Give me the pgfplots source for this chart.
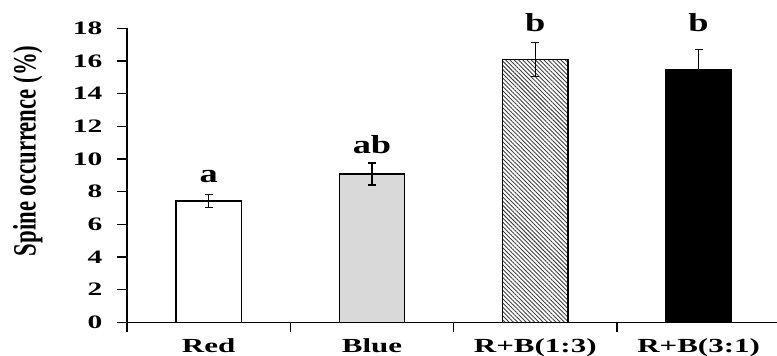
\documentclass[border=0pt]{standalone}
\usepackage{pgfplots}
\pgfplotsset{compat=1.18}
\usetikzlibrary{patterns.meta}
\usepackage{fontspec}
\setmainfont{Liberation Serif}
\newfontfamily\tickf{Liberation Serif}[FakeStretch=1.55]
\newfontfamily\letf{Liberation Serif}[FakeStretch=1.4]
\newfontfamily\labf{Liberation Serif}[FakeStretch=0.7]
\begin{document}
\begin{tikzpicture}
\begin{axis}[
  name=ax,
  scale only axis, width=650pt, height=294pt,
  xmin=-0.5, xmax=3.48, ymin=0, ymax=18,
  clip=false,
  axis x line*=bottom, axis y line*=left,
  axis line style={-, line width=1.3pt, black},
  every outer x axis line/.append style={-},
  every outer y axis line/.append style={-},
  ytick={0,2,...,18},
  xtick={-0.5,0.5,1.5,2.5},
  xticklabels={},
  extra x ticks={0,1,2,3},
  extra x tick labels={Red,Blue,R+B(1:3),R+B(3:1)},
  extra x tick style={tick style={draw=none}},
  tick align=outside,
  major tick length=9.5pt,
  every tick/.style={black, line width=1.3pt},
  /pgf/number format/assume math mode=true,
  yticklabel style={font=\tickf\bfseries\fontsize{19}{20}\selectfont, anchor=east, inner sep=0pt, xshift=-15pt},
  xticklabel style={font=\tickf\bfseries\fontsize{20}{22}\selectfont, anchor=north, inner sep=0pt, yshift=-6.5pt},
  ylabel={Spine occurrence (\%)},
  ylabel style={font=\labf\bfseries\fontsize{32.5}{35}\selectfont, at={(axis description cs:-0.1754,0.583)}, anchor=north, inner sep=0pt},
  error bars/error bar style={line width=1.3pt, black},
  error bars/error mark options={rotate=90, mark size=4pt, line width=1.3pt, black},
]
\addplot[ybar, bar width=0.4, bar shift=0pt, fill=white, draw=black, line width=1.3pt,
  error bars/.cd, y dir=both, y explicit] coordinates {(0,7.43) +- (0,0.41)};
\addplot[ybar, bar width=0.4, bar shift=0pt, fill=black!15, draw=black, line width=1.3pt,
  error bars/.cd, y dir=both, y explicit] coordinates {(1,9.08) +- (0,0.67)};
\addplot[ybar, bar width=0.4, bar shift=0pt, draw=black, line width=1.3pt,
  pattern={Lines[angle=-45, distance=3pt, line width=0.9pt]}, pattern color=black!75,
  error bars/.cd, y dir=both, y explicit] coordinates {(2,16.1) +- (0,1.05)};
\addplot[ybar, bar width=0.4, bar shift=0pt, fill=black, draw=black, line width=1.3pt,
  error bars/.cd, y dir=both, y explicit] coordinates {(3,15.49) +- (0,1.23)};
\node[font=\letf\bfseries\fontsize{26}{28}\selectfont, anchor=base, inner sep=0pt] at (axis cs:0,8.53) {a};
\node[font=\letf\bfseries\fontsize{26}{28}\selectfont, anchor=base, inner sep=0pt] at (axis cs:1,10.35) {ab};
\node[font=\letf\bfseries\fontsize{26}{28}\selectfont, anchor=base, inner sep=0pt] at (axis cs:2,17.8) {b};
\node[font=\letf\bfseries\fontsize{26}{28}\selectfont, anchor=base, inner sep=0pt] at (axis cs:3,17.8) {b};
\end{axis}
\pgfresetboundingbox
\path ([xshift=-127pt,yshift=-33.7pt]ax.south west) rectangle ([yshift=28.3pt]ax.north east);
\end{tikzpicture}
\end{document}
